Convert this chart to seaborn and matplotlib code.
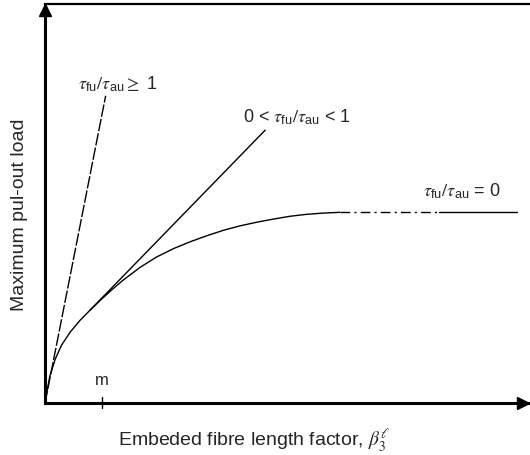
import numpy as np
import pandas as pd
import matplotlib
matplotlib.use("Agg")
import matplotlib.pyplot as plt
import seaborn as sns

# curve for tau_fu/tau_au = 0 (rising part, then plateau)
curve_x = [0, 0.035, 0.10, 0.21, 0.34, 0.52, 0.72, 0.93, 1.17, 1.38, 1.61, 1.96,
           2.30, 2.65, 2.99, 3.33, 3.68, 4.02, 4.36, 4.71, 5.05, 5.40, 5.74, 6.08]
curve_y = [0, 0.27, 0.68, 1.10, 1.45, 1.78, 2.07, 2.33, 2.61, 2.84, 3.08, 3.40,
           3.66, 3.87, 4.04, 4.19, 4.33, 4.44, 4.53, 4.61, 4.68, 4.73, 4.76, 4.78]
plateau_dash_x = [6.08, 8.12]
plateau_solid_x = [8.12, 9.73]
plateau_y = 4.78

# 0 < tau_fu/tau_au < 1 : straight part leaving the curve
mid_x = [0.93, 4.54]
mid_y = [2.33, 6.84]

# tau_fu/tau_au >= 1
steep_x = [0, 1.25]
steep_y = [0, 7.70]

m_pos = 1.17

sns.set_style("white")
plt.rcParams['font.family'] = ['Liberation Sans', 'DejaVu Sans']
plt.rcParams['mathtext.fontset'] = 'stix'

fig = plt.figure(figsize=(5.3, 4.56), dpi=100)
ax = fig.add_axes([0.085, 0.114, 0.915, 0.875])

k = dict(color='black', lw=1.0, legend=False, ax=ax, estimator=None, sort=False)
sns.lineplot(x=curve_x, y=curve_y, **k)
sns.lineplot(x=mid_x, y=mid_y, **k)
sns.lineplot(x=plateau_solid_x, y=[plateau_y] * 2, **k)
l1 = sns.lineplot(x=plateau_dash_x, y=[plateau_y] * 2, **k).lines[-1]
l1.set_dashes((7, 3, 1.5, 3))
l2 = sns.lineplot(x=steep_x, y=steep_y, **k).lines[-1]
l2.set_dashes((9, 1.5))

ax.set_xlim(0, 10)
ax.set_ylim(0, 10)
ax.set_xticks([])
ax.set_yticks([])

for s in ['left', 'bottom']:
    ax.spines[s].set_linewidth(2.2)
    ax.spines[s].set_color('black')
ax.spines['top'].set_linewidth(1.6)
ax.spines['top'].set_color('black')
ax.spines['right'].set_visible(False)

ax.plot([0], [0.985], marker='^', color='black', markersize=9,
        transform=ax.transAxes, clip_on=False)
ax.plot([0.985], [0], marker='>', color='black', markersize=9,
        transform=ax.transAxes, clip_on=False)

# m tick
ax.plot([m_pos, m_pos], [-0.12, 0.15], color='black', lw=1.0, clip_on=False)
ax.text(m_pos, 0.6, 'm', ha='center', va='center', fontsize=12)

tau = r'$\tau_{\mathregular{fu}}/\tau_{\mathregular{au}}$'
ax.text(0.67, 8.02, tau + r'$\geq$ 1', ha='left', va='center', fontsize=13)
ax.text(4.09, 7.18, '0 < ' + tau + ' < 1', ha='left', va='center', fontsize=13)
ax.text(7.79, 5.34, tau + ' = 0', ha='left', va='center', fontsize=13)

fig.text(0.48, 0.033, r'Embeded fibre length factor, $\beta_3^{\ell}$',
         ha='center', va='center', fontsize=14)
fig.text(0.036, 0.528, 'Maximum pul-out load', rotation=90,
         ha='center', va='center', fontsize=14)

fig.savefig('out.png', dpi=100)
